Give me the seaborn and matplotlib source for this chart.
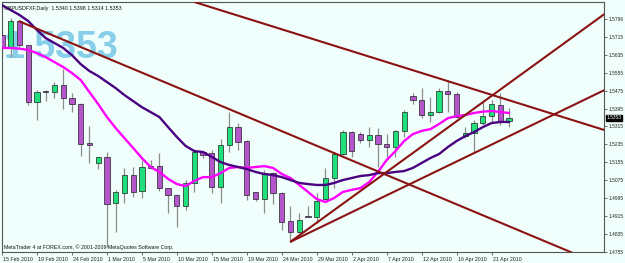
import numpy as np
import pandas as pd
import matplotlib
matplotlib.use("Agg")
import matplotlib.pyplot as plt
import matplotlib.transforms as mtransforms
import seaborn as sns

# ---------------- data ----------------
opens = [1.5722, 1.5669, 1.5785, 1.5678, 1.5424, 1.5473, 1.5468, 1.5500, 1.5442, 1.5415,
         1.5241, 1.5152, 1.5179, 1.4974, 1.5018, 1.5098, 1.5027, 1.5130, 1.5138, 1.5040,
         1.5009, 1.4960, 1.5063, 1.5201, 1.5196, 1.5045, 1.5232, 1.5312, 1.5250, 1.5023,
         1.4991, 1.5107, 1.5018, 1.4893, 1.4844, 1.4916, 1.4911, 1.4991, 1.5085, 1.5192,
         1.5290, 1.5281, 1.5254, 1.5277, 1.5237, 1.5223, 1.5295, 1.5451, 1.5433, 1.5366,
         1.5379, 1.5473, 1.5459, 1.5272, 1.5286, 1.5330, 1.5361, 1.5410, 1.5340]
highs = [1.5745, 1.5798, 1.5790, 1.5680, 1.5477, 1.5477, 1.5513, 1.5571, 1.5464, 1.5419,
         1.5317, 1.5179, 1.5201, 1.5032, 1.5130, 1.5134, 1.5165, 1.5165, 1.5196, 1.5040,
         1.5014, 1.5076, 1.5214, 1.5205, 1.5210, 1.5259, 1.5379, 1.5330, 1.5254, 1.5023,
         1.5121, 1.5112, 1.5023, 1.4960, 1.4929, 1.4960, 1.5018, 1.5130, 1.5201, 1.5299,
         1.5295, 1.5290, 1.5312, 1.5308, 1.5281, 1.5299, 1.5388, 1.5464, 1.5486, 1.5446,
         1.5486, 1.5517, 1.5468, 1.5312, 1.5344, 1.5424, 1.5433, 1.5464, 1.5398]
lows = [1.5620, 1.5624, 1.5669, 1.5410, 1.5344, 1.5428, 1.5442, 1.5393, 1.5379, 1.5183,
        1.5152, 1.5125, 1.4777, 1.4844, 1.4974, 1.5000, 1.4996, 1.5125, 1.5027, 1.4929,
        1.4866, 1.4942, 1.5023, 1.5174, 1.5018, 1.4974, 1.5201, 1.5210, 1.4987, 1.4982,
        1.4929, 1.4969, 1.4853, 1.4800, 1.4840, 1.4911, 1.4884, 1.4987, 1.5040, 1.5187,
        1.5179, 1.5241, 1.5223, 1.5134, 1.5179, 1.5179, 1.5268, 1.5415, 1.5352, 1.5335,
        1.5375, 1.5379, 1.5352, 1.5263, 1.5196, 1.5321, 1.5330, 1.5321, 1.5314]
closes = [1.5669, 1.5785, 1.5678, 1.5424, 1.5468, 1.5468, 1.5500, 1.5442, 1.5415, 1.5237,
          1.5232, 1.5179, 1.4969, 1.5023, 1.5098, 1.5023, 1.5134, 1.5138, 1.5040, 1.5009,
          1.4960, 1.5063, 1.5201, 1.5187, 1.5045, 1.5232, 1.5312, 1.5245, 1.5009, 1.4991,
          1.5107, 1.5018, 1.4889, 1.4844, 1.4898, 1.4913, 1.4982, 1.5085, 1.5192, 1.5290,
          1.5205, 1.5254, 1.5277, 1.5237, 1.5223, 1.5295, 1.5379, 1.5433, 1.5366, 1.5379,
          1.5473, 1.5459, 1.5357, 1.5286, 1.5330, 1.5361, 1.5415, 1.5335, 1.5353]
ma_fast = [1.5665, 1.5665, 1.5662, 1.5656, 1.5642, 1.5624, 1.5602, 1.5580, 1.5553, 1.5522,
           1.5468, 1.5415, 1.5357, 1.5308, 1.5263, 1.5219, 1.5174, 1.5134, 1.5112, 1.5081,
           1.5058, 1.5049, 1.5072, 1.5089, 1.5089, 1.5107, 1.5130, 1.5134, 1.5130, 1.5134,
           1.5138, 1.5130, 1.5103, 1.5085, 1.5054, 1.5023, 1.4991, 1.4978, 1.4996, 1.5023,
           1.5032, 1.5040, 1.5067, 1.5112, 1.5165, 1.5205, 1.5250, 1.5281, 1.5295, 1.5303,
           1.5326, 1.5352, 1.5361, 1.5366, 1.5375, 1.5381, 1.5384, 1.5379, 1.5375]
ma_slow = [1.5856, 1.5834, 1.5812, 1.5785, 1.5745, 1.5709, 1.5687, 1.5665, 1.5633, 1.5593,
           1.5562, 1.5540, 1.5513, 1.5486, 1.5455, 1.5428, 1.5401, 1.5379, 1.5357, 1.5312,
           1.5268, 1.5228, 1.5205, 1.5201, 1.5179, 1.5156, 1.5143, 1.5134, 1.5125, 1.5112,
           1.5103, 1.5098, 1.5089, 1.5076, 1.5063, 1.5058, 1.5054, 1.5054, 1.5063, 1.5076,
           1.5085, 1.5094, 1.5098, 1.5107, 1.5107, 1.5112, 1.5116, 1.5130, 1.5152, 1.5174,
           1.5192, 1.5223, 1.5250, 1.5272, 1.5290, 1.5312, 1.5330, 1.5335, 1.5335]

date_tick_bars = [0, 4, 8, 12, 16, 20, 24, 28, 32, 36, 40, 44, 48, 52, 56]
date_tick_labels = ["15 Feb 2010", "19 Feb 2010", "24 Feb 2010", "1 Mar 2010", "5 Mar 2010",
                    "10 Mar 2010", "15 Mar 2010", "19 Mar 2010", "24 Mar 2010", "29 Mar 2010",
                    "2 Apr 2010", "7 Apr 2010", "12 Apr 2010", "16 Apr 2010", "21 Apr 2010"]
price_ticks = [1.5796, 1.5715, 1.5635, 1.5555, 1.5475, 1.5395, 1.5315, 1.5235,
               1.5155, 1.5075, 1.4995, 1.4915, 1.4835, 1.4755]
price_tick_labels = ["1.5796", "1.5715", "1.5635", "1.5555", "1.5475", "1.5395", "1.5315",
                     "1.5235", "1.5155", "1.5075", "1.4995", "1.4915", "1.4835", "1.4755"]

# trend lines: (bar, price) anchors
trend_bars = [[1.9, 70.0], [22.0, 68.9], [32.97, 68.9], [32.97, 68.9]]
trend_prices = [[1.5785, 1.4674], [1.5870, 1.5299], [1.4800, 1.5816], [1.4800, 1.5477]]

symbol = "GBPUSDFXF,Daily"
last_price = "1.5353"
copyright_txt = "MetaTrader 4 at FOREX.com, \u00a9 2001-2009 MetaQuotes Software Corp."

# ---------------- style ----------------
sns.set_theme(style="white")
plt.rcParams["font.family"] = ["Liberation Sans", "DejaVu Sans"]

BG = "#f0fffb"
BULL = "#1fe07a"
BEAR = "#b455cc"
WICK = "#8c8c8c"
TREND = "#8b1212"
FRAME = "#555555"

W, H = 625, 263
fig = plt.figure(figsize=(W / 100, H / 100), dpi=100, facecolor=BG)
ax = fig.add_axes([2 / W, 11 / H, 602 / W, 250 / H])
ax.set_facecolor(BG)

df = pd.DataFrame({"bar": np.arange(len(opens)), "open": opens, "high": highs,
                   "low": lows, "close": closes, "ma_fast": ma_fast, "ma_slow": ma_slow})
up = df["close"] >= df["open"]

# big price text behind everything
ax.text(0.002, 0.815, last_price, transform=ax.transAxes, fontsize=27, fontweight="bold",
        color="#87ceeb", ha="left", va="center", zorder=0.5,
        family=["Liberation Sans", "DejaVu Sans"])

# wicks
ax.vlines(df["bar"], df["low"], df["high"], color=WICK, lw=0.9, zorder=2)
# bodies
body_h = np.maximum((df["close"] - df["open"]).abs(), 0.00025)
body_b = np.minimum(df["open"], df["close"])
ax.bar(df["bar"], body_h, bottom=body_b, width=0.6,
       color=np.where(up, BULL, BEAR), edgecolor="#202020", linewidth=0.5, zorder=3)

# moving averages
sns.lineplot(data=df, x="bar", y="ma_fast", ax=ax, color="#ff00ff", lw=1.7, zorder=4)
sns.lineplot(data=df, x="bar", y="ma_slow", ax=ax, color="#4b0082", lw=1.7, zorder=4)

# trend lines
for bx, py in zip(trend_bars, trend_prices):
    ax.plot(bx, py, color=TREND, lw=1.5, zorder=5, solid_capstyle="butt")

ax.set_xlim(0.057, 68.86)
ax.set_ylim(1.4755, 1.5870)
ax.set_xlabel("")
ax.set_ylabel("")

# axes ticks
ax.yaxis.tick_right()
ax.set_yticks(price_ticks)
ax.set_yticklabels(price_tick_labels)
ax.set_xticks(date_tick_bars)
ax.set_xticklabels(date_tick_labels, ha="left")
ax.tick_params(axis="y", which="both", right=True, length=2.0, width=0.6, color=FRAME,
               labelsize=3.5, pad=1.0, labelcolor="#222222")
ax.tick_params(axis="x", which="both", bottom=True, length=2.5, width=0.6, color=FRAME,
               labelsize=3.8, pad=0.8, labelcolor="#222222")
offset = mtransforms.ScaledTranslation(1.2 / 100, 0, fig.dpi_scale_trans)
for lab in ax.get_xticklabels():
    lab.set_transform(lab.get_transform() + offset)

for s in ax.spines.values():
    s.set_color(FRAME)
    s.set_linewidth(0.8)

# header & copyright
ax.text(0.004, 0.985, symbol + "  1.5340 1.5398 1.5314 1.5353", transform=ax.transAxes,
        fontsize=3.8, color="#111111", ha="left", va="top", zorder=6)
ax.text(0.003, 0.008, copyright_txt, transform=ax.transAxes, fontsize=3.8,
        color="#111111", ha="left", va="bottom", zorder=6)

# current price tag on the axis
trans = mtransforms.blended_transform_factory(ax.transAxes, ax.transData)
ax.text(1.004, 1.5353, last_price, transform=trans, fontsize=3.5, color="white",
        ha="left", va="center", zorder=7, clip_on=False,
        bbox=dict(boxstyle="square,pad=0.15", fc="black", ec="black"))

fig.savefig("out.png", dpi=100, facecolor=BG)
